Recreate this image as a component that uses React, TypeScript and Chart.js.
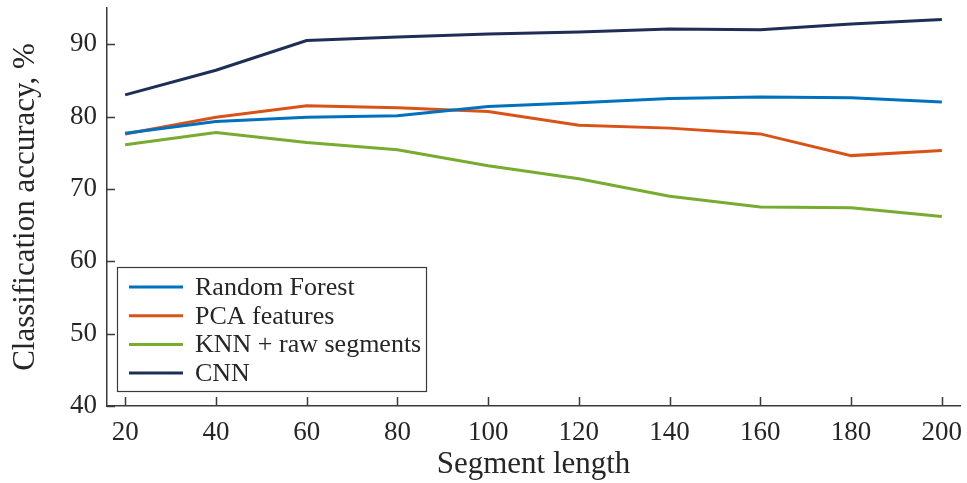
import React, { useEffect, useRef } from 'react';
import { Chart, registerables } from 'chart.js';

Chart.register(...registerables);

const segmentLengths = [20, 40, 60, 80, 100, 120, 140, 160, 180, 200];
const randomForest = [77.7, 79.3, 79.9, 80.1, 81.4, 81.9, 82.5, 82.7, 82.6, 82.0];
const pcaFeatures = [77.6, 79.9, 81.5, 81.2, 80.7, 78.8, 78.4, 77.6, 74.6, 75.3];
const knnRawSegments = [76.1, 77.8, 76.4, 75.4, 73.2, 71.4, 69.0, 67.5, 67.4, 66.2];
const cnn = [83.0, 86.4, 90.5, 91.0, 91.4, 91.7, 92.1, 92.0, 92.8, 93.4];
const seriesLabels = ['Random Forest', 'PCA features', 'KNN + raw segments', 'CNN'];
const seriesColors = ['#0072BD', '#D95319', '#77AC30', '#1F2E56'];
const xTickValues = [20, 40, 60, 80, 100, 120, 140, 160, 180, 200];
const yTickValues = [40, 50, 60, 70, 80, 90];

const FONT = '"Liberation Serif", "DejaVu Serif", serif';
const TEXT = '#262626';
const AXIS = '#3a3a3a';

const inwardTicks = {
  id: 'inwardTicks',
  afterDatasetsDraw(chart: any) {
    const { ctx, chartArea } = chart;
    const xs = chart.scales.x;
    const ys = chart.scales.y;
    ctx.save();
    ctx.strokeStyle = AXIS;
    ctx.lineWidth = 1.5;
    ctx.beginPath();
    xTickValues.forEach((v) => {
      const px = Math.round(xs.getPixelForValue(v)) + 0.5;
      ctx.moveTo(px, chartArea.bottom);
      ctx.lineTo(px, chartArea.bottom - 9);
    });
    yTickValues.forEach((v) => {
      const py = Math.round(ys.getPixelForValue(v)) + 0.5;
      ctx.moveTo(chartArea.left, py);
      ctx.lineTo(chartArea.left + 8, py);
    });
    ctx.stroke();
    ctx.restore();
  },
};

const boxLegend = {
  id: 'boxLegend',
  afterDraw(chart: any) {
    const { ctx, chartArea } = chart;
    const left = chartArea.left + 10;
    const top = chartArea.bottom - 139;
    const w = 309;
    const h = 124;
    ctx.save();
    ctx.fillStyle = '#ffffff';
    ctx.fillRect(left, top, w, h);
    ctx.strokeStyle = AXIS;
    ctx.lineWidth = 1.2;
    ctx.strokeRect(left + 0.5, top + 0.5, w, h);
    ctx.font = `26px ${FONT}`;
    ctx.textBaseline = 'middle';
    ctx.textAlign = 'left';
    chart.data.datasets.forEach((ds: any, i: number) => {
      const y = top + 20 + i * 28.7;
      ctx.strokeStyle = ds.borderColor;
      ctx.lineWidth = 3;
      ctx.beginPath();
      ctx.moveTo(left + 12, y);
      ctx.lineTo(left + 66, y);
      ctx.stroke();
      ctx.fillStyle = TEXT;
      ctx.fillText(ds.label, left + 78, y + 1);
    });
    ctx.restore();
  },
};

export default function App() {
  const ref = useRef<HTMLCanvasElement | null>(null);
  useEffect(() => {
    if (!ref.current) return;
    const series = [randomForest, pcaFeatures, knnRawSegments, cnn];
    const chart = new Chart(ref.current, {
      type: 'line',
      data: {
        datasets: series.map((vals, i) => ({
          label: seriesLabels[i],
          data: vals.map((v, j) => ({ x: segmentLengths[j], y: v })),
          borderColor: seriesColors[i],
          backgroundColor: seriesColors[i],
          borderWidth: 3,
          pointRadius: 0,
          tension: 0,
          fill: false,
        })),
      },
      options: {
        animation: false,
        responsive: false,
        layout: { padding: { top: 8, right: 7, left: 0, bottom: 0 } },
        plugins: { legend: { display: false }, tooltip: { enabled: false } },
        scales: {
          x: {
            type: 'linear',
            min: 16,
            max: 204,
            afterBuildTicks: (s: any) => {
              s.ticks = xTickValues.map((v) => ({ value: v }));
            },
            afterFit: (s: any) => {
              s.height = 77;
              s.paddingLeft = 0;
              s.paddingRight = 0;
            },
            grid: { display: false, drawTicks: false },
            border: { display: true, color: AXIS, width: 1.5 },
            ticks: {
              padding: 11,
              color: TEXT,
              font: { family: FONT, size: 27 },
              maxRotation: 0,
              autoSkip: false,
            },
            title: {
              display: true,
              text: 'Segment length',
              color: TEXT,
              font: { family: FONT, size: 31 },
              padding: { top: 0, bottom: 0 },
            },
          },
          y: {
            type: 'linear',
            min: 40,
            max: 95,
            afterBuildTicks: (s: any) => {
              s.ticks = yTickValues.map((v) => ({ value: v }));
            },
            afterFit: (s: any) => {
              s.width = 107;
              s.paddingTop = 0;
              s.paddingBottom = 0;
            },
            grid: { display: false, drawTicks: false },
            border: { display: true, color: AXIS, width: 1.5 },
            ticks: {
              padding: 10,
              color: TEXT,
              font: { family: FONT, size: 27 },
              autoSkip: false,
            },
            title: {
              display: true,
              text: 'Classification accuracy, %',
              color: TEXT,
              font: { family: FONT, size: 31 },
              padding: { top: 7, bottom: 0 },
            },
          },
        },
      },
      plugins: [inwardTicks, boxLegend],
    });
    return () => chart.destroy();
  }, []);
  return (
    <div style={{ position: 'absolute', left: 0, top: 0, width: 967, height: 483, background: '#fff' }}>
      <canvas ref={ref} width={967} height={483} style={{ width: 967, height: 483 }} />
    </div>
  );
}
